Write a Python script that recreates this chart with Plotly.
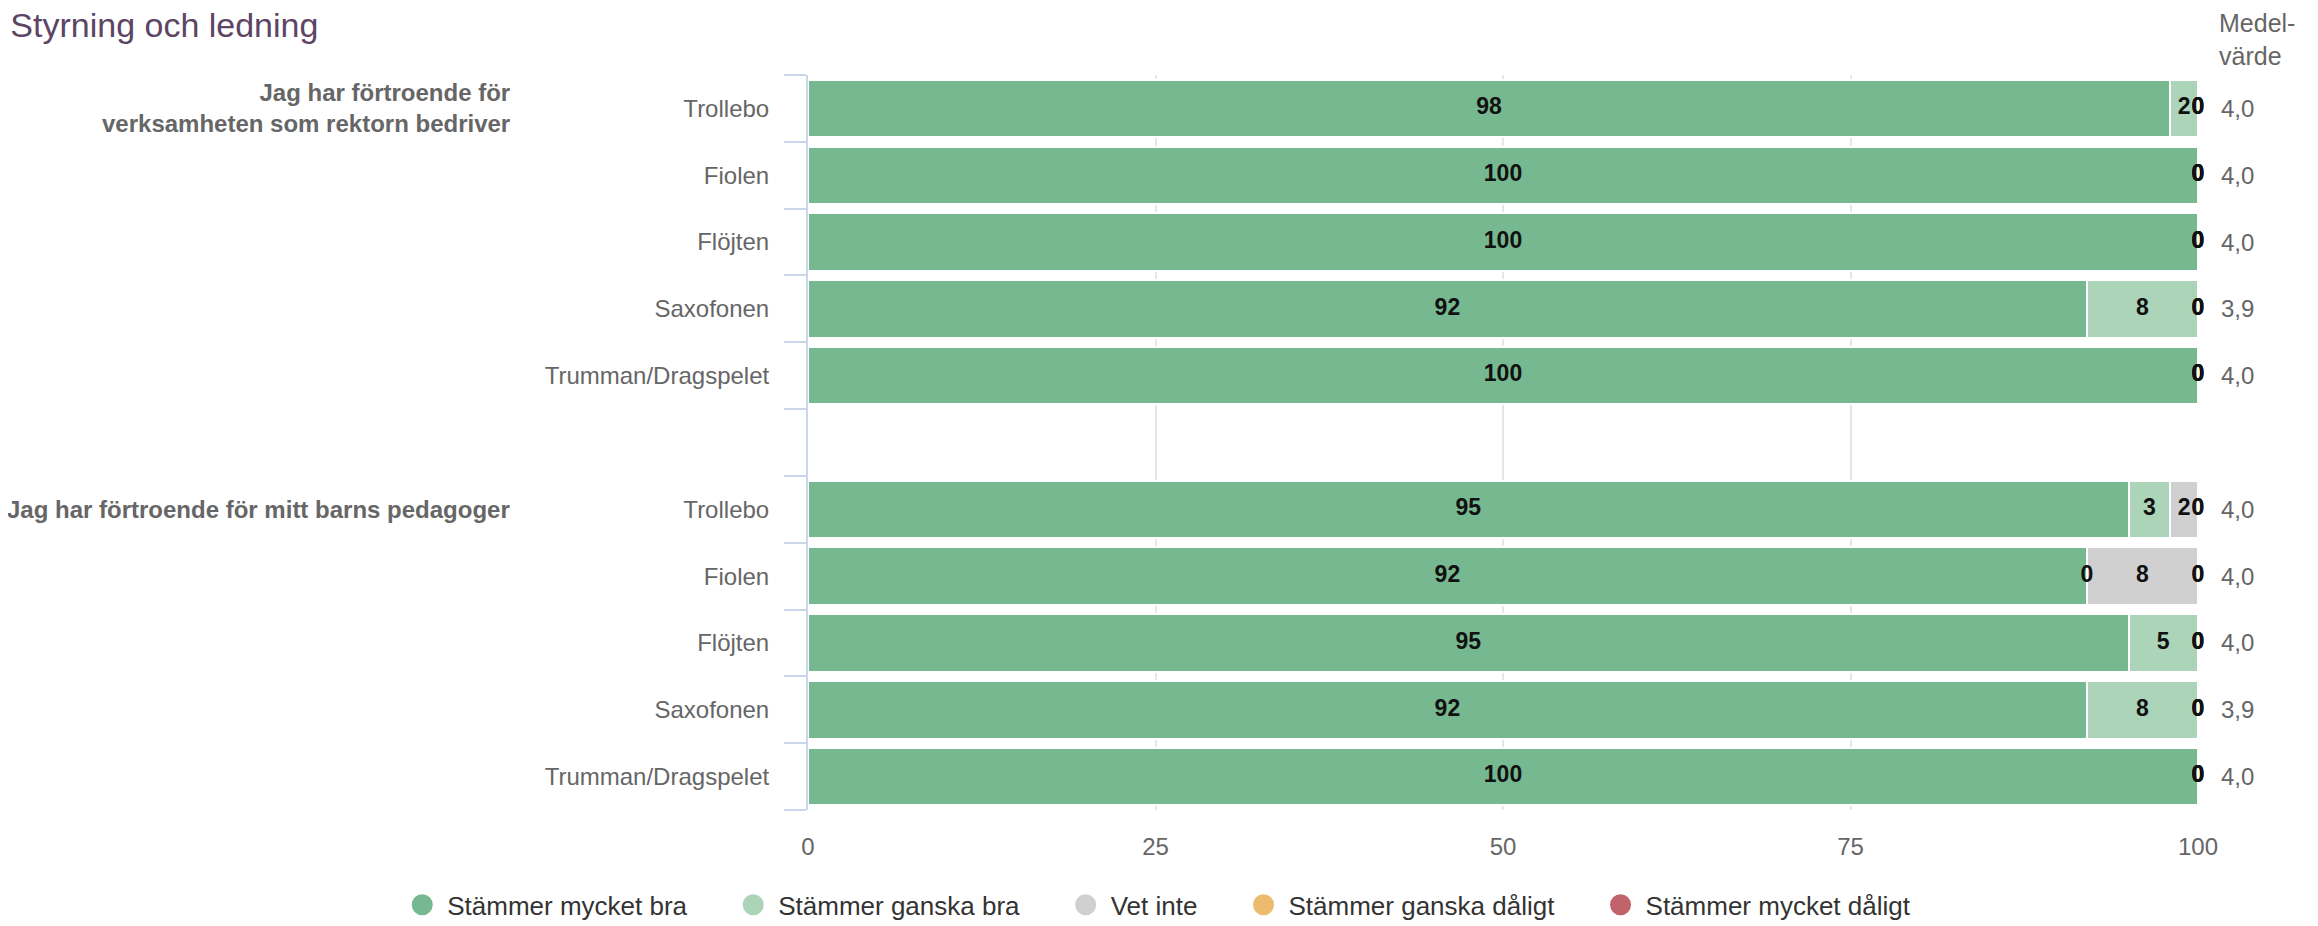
import plotly.graph_objects as go

# ---------------- data ----------------
title_text = "Styrning och ledning"
questions = [
    "Jag har förtroende för<br>verksamheten som rektorn bedriver",
    "Jag har förtroende för mitt barns pedagoger",
]
units = ["Trollebo", "Fiolen", "Flöjten", "Saxofonen", "Trumman/Dragspelet"]
series_names = ["Stämmer mycket bra", "Stämmer ganska bra", "Vet inte",
                "Stämmer ganska dåligt", "Stämmer mycket dåligt"]
series_colors = ["#76b88f", "#acd4b9", "#d0d0d0", "#ecbb6e", "#c0636b"]

# values per question, per unit, per response (percent)
q1_values = [
    [98, 2, 0, 0, 0],
    [100, 0, 0, 0, 0],
    [100, 0, 0, 0, 0],
    [92, 8, 0, 0, 0],
    [100, 0, 0, 0, 0],
]
q2_values = [
    [95, 3, 2, 0, 0],
    [92, 0, 8, 0, 0],
    [95, 5, 0, 0, 0],
    [92, 8, 0, 0, 0],
    [100, 0, 0, 0, 0],
]
q1_means = ["4,0", "4,0", "4,0", "3,9", "4,0"]
q2_means = ["4,0", "4,0", "4,0", "3,9", "4,0"]
mean_header = "Medel-<br>värde"
x_ticks = [0, 25, 50, 75, 100]

# ---------------- build rows ----------------
rows = []          # (row_index, unit label, values, mean)
idx = 0
group_first_row = []
for gi, (qvals, qmeans) in enumerate(((q1_values, q1_means), (q2_values, q2_means))):
    if gi > 0:
        idx += 1  # empty spacer row between questions
    group_first_row.append(idx)
    for u, v, m in zip(units, qvals, qmeans):
        rows.append((idx, u, v, m))
        idx += 1
last_row = rows[-1][0]

FONT = "Liberation Sans, Arial, sans-serif"
NBSP = "\u00a0"
fig = go.Figure()

for s, (name, col) in enumerate(zip(series_names, series_colors)):
    fig.add_trace(go.Bar(
        orientation="h",
        y=[r[0] for r in rows],
        x=[r[2][s] for r in rows],
        name=name,
        marker=dict(color=col, line=dict(color="white", width=2)),
        showlegend=False,
        hoverinfo="x+name",
    ))
for name, col in zip(series_names, series_colors):
    # legend entry with circle symbol
    fig.add_trace(go.Scatter(
        x=[None], y=[None], mode="markers", name=name + NBSP * 5,
        marker=dict(color=col, size=16, symbol="circle",
                    line=dict(color=col, width=5)),
        showlegend=True,
    ))

# data labels (centred on each segment)
lx, ly, lt = [], [], []
for r in rows:
    start = 0
    for v in r[2]:
        lx.append(start + v / 2)
        ly.append(r[0])
        lt.append(str(v))
        start += v
fig.add_trace(go.Scatter(
    x=lx, y=ly, text=lt, mode="text", showlegend=False, hoverinfo="skip",
    textfont=dict(family=FONT, size=23, color="#111111", weight="bold"),
    cliponaxis=False,
))

annotations = []
# question labels
for q, r0 in zip(questions, group_first_row):
    annotations.append(dict(
        text="<b>" + q + "</b>", xref="paper", yref="y", x=-0.213, y=r0,
        xanchor="right", yanchor="middle", align="right", showarrow=False,
        font=dict(family=FONT, size=24, color="#666666"),
    ))
# mean values
for r in rows:
    annotations.append(dict(
        text=r[3], xref="paper", yref="y", x=1.015, y=r[0],
        xanchor="left", yanchor="middle", showarrow=False,
        font=dict(family=FONT, size=24, color="#666666"),
    ))
annotations.append(dict(
    text=mean_header, xref="paper", yref="paper", x=1.014, y=1.048,
    xanchor="left", yanchor="middle", align="left", showarrow=False,
    font=dict(family=FONT, size=25, color="#666666"),
))

boundaries = [i - 0.5 for i in range(last_row + 2)]

fig.update_layout(
    width=2318, height=926,
    margin=dict(l=800, r=128, t=67, b=124, autoexpand=False),
    paper_bgcolor="white", plot_bgcolor="white",
    barmode="stack", bargap=0.14,
    font=dict(family=FONT, color="#666666"),
    title=dict(text=title_text, xref="container", yref="container",
               x=0.001, xanchor="left", y=0.982, yanchor="middle",
               pad=dict(t=0, b=0, l=0, r=0),
               font=dict(family=FONT, size=34, color="#5c4563")),
    xaxis=dict(range=[0, 100], tickvals=x_ticks, showgrid=True,
               gridcolor="#e6e6e6", gridwidth=2, zeroline=False,
               showline=False, ticks="outside", ticklen=15,
               tickcolor="rgba(0,0,0,0)",
               tickfont=dict(family=FONT, size=24, color="#666666")),
    yaxis=dict(range=[last_row + 0.5, -0.5], tickmode="array",
               tickvals=[r[0] for r in rows], ticktext=[r[1] for r in rows],
               showgrid=False, zeroline=False, showline=True,
               linecolor="#ccd6eb", linewidth=2,
               ticks="outside", ticklen=32, tickcolor="rgba(0,0,0,0)",
               tickfont=dict(family=FONT, size=24, color="#666666"),
               minor=dict(tickmode="array", tickvals=boundaries,
                          ticks="outside", ticklen=22, tickcolor="#ccd6eb",
                          tickwidth=2, showgrid=False)),
    legend=dict(orientation="h", xref="paper", yref="paper",
                x=-0.2955, xanchor="left", y=-0.129, yanchor="middle",
                traceorder="normal", itemwidth=40,
                font=dict(family=FONT, size=26, color="#333333"),
                itemsizing="trace"),
    annotations=annotations,
)

fig.write_html("out.html")
